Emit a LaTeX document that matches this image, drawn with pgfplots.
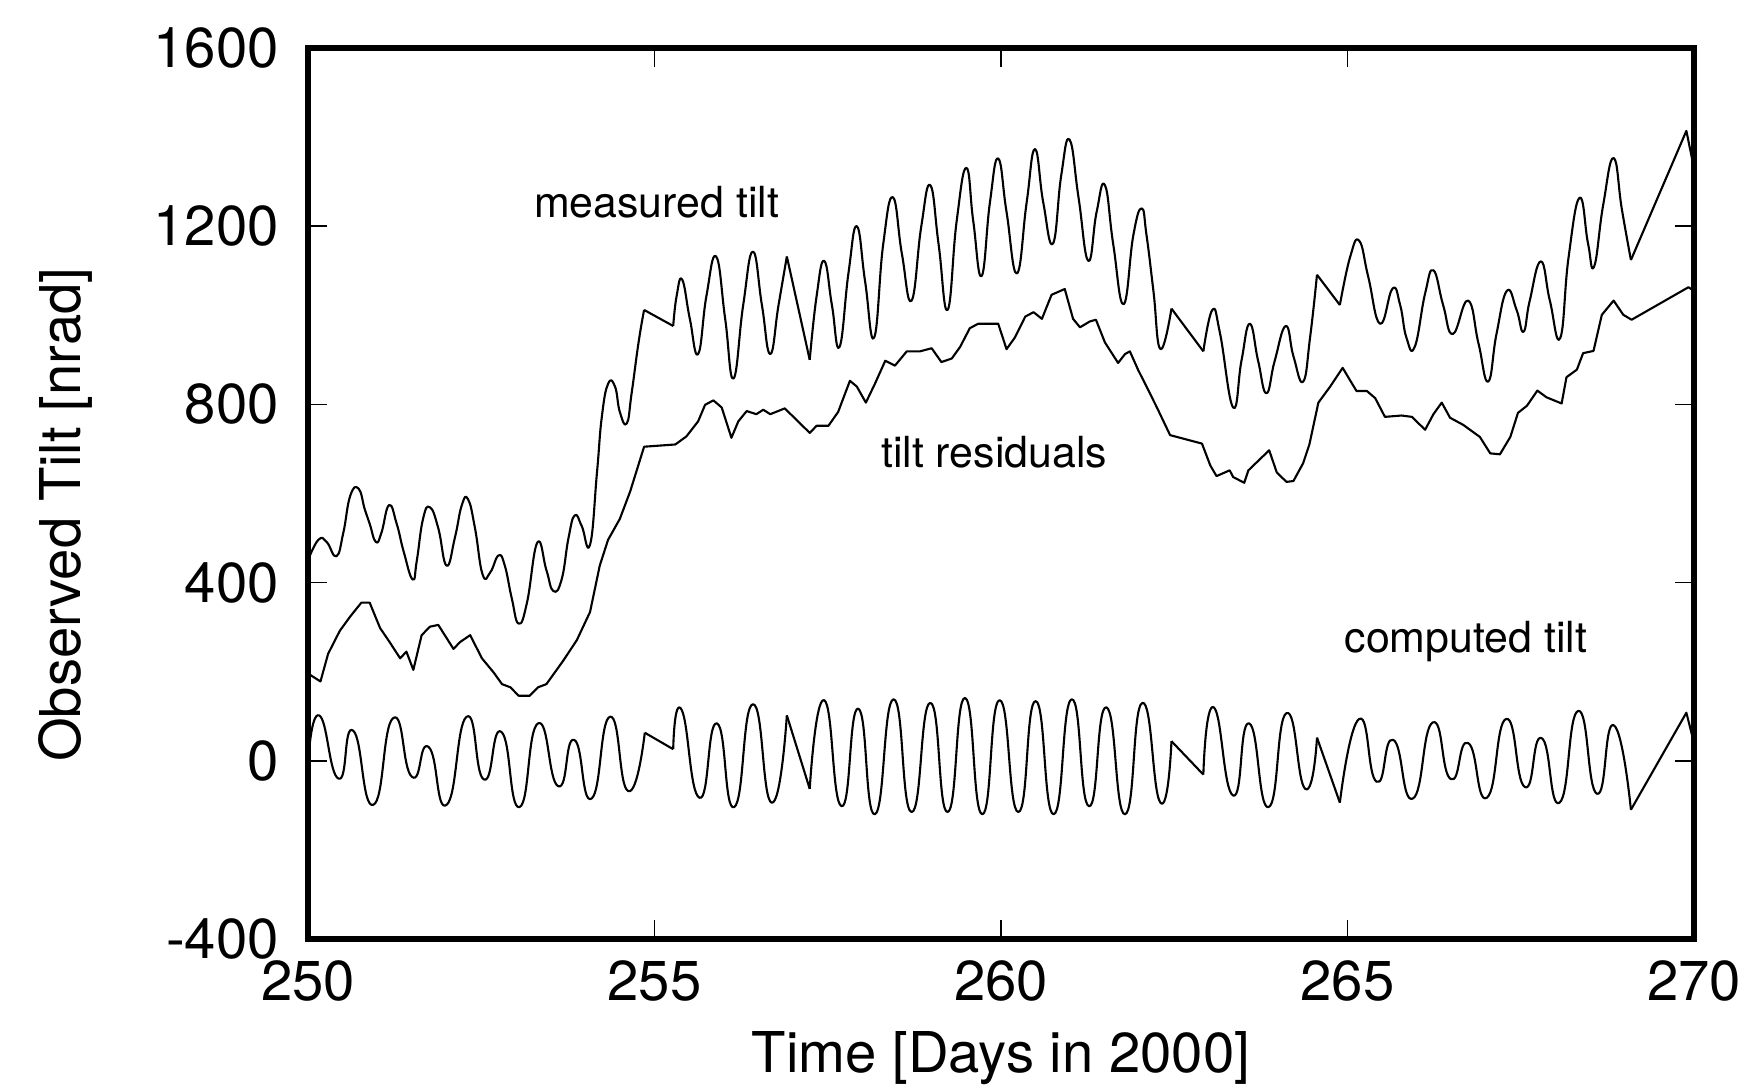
\documentclass[border=0pt]{standalone}
\usepackage{fontspec}
\setmainfont{TeX Gyre Heros}
\usepackage{pgfplots}
\pgfplotsset{compat=1.18}
\usetikzlibrary{calc}

\pgfplotsset{
  tilt/.style={black, line width=0.6pt, line join=round, mark=none},
  wave/.style={tilt, smooth, tension=0.8},
  tide/.style={tilt, smooth, tension=1.0},
}

\begin{document}
\begin{tikzpicture}
\begin{axis}[
  name=ax,
  scale only axis,
  width=138.6mm, height=89.1mm,
  xmin=250, xmax=270, ymin=-400, ymax=1600,
  xtick={250,255,...,270}, ytick={-400,0,...,1600},
  tick align=inside, tick pos=both,
  major tick length=1.9mm,
  major tick style={line width=0.5pt, black},
  axis line style={line width=1.9pt},
  /pgf/number format/assume math mode=true,
  /pgf/number format/1000 sep={},
  tick label style={font=\fontsize{16}{19}\selectfont},
  yticklabel style={xshift=-1.7mm},
  xticklabel style={yshift=-0.9mm},
  label style={font=\fontsize{16}{19}\selectfont},
  xlabel={Time [Days in 2000]},
  ylabel={Observed Tilt [nrad]},
  xlabel style={at={(axis description cs:0.5,-0.134)}, anchor=center},
  ylabel style={at={(axis description cs:-0.175,0.476)}, anchor=center},
]
% measured tilt
\addplot[wave] coordinates {
(250.00,450) (250.15,496) (250.27,491) (250.41,459) (250.51,512) (250.61,595) (250.73,611)
(250.82,564) (250.89,532) (250.98,491) (251.06,512) (251.17,574) (251.28,532) (251.38,470)
(251.51,407) (251.57,449) (251.66,543) (251.76,569) (251.88,522) (252.00,438) (252.12,501)
(252.22,574) (252.31,587) (252.41,522) (252.52,418) (252.63,423) (252.75,461) (252.84,438)
(252.94,365) (253.04,308) (253.16,355) (253.31,490) (253.44,428) (253.54,381) (253.66,407)
(253.76,501) (253.85,551) (253.95,527) (254.07,485) (254.17,647) (254.24,772) (254.33,846)
(254.43,840) (254.50,783) (254.60,757) (254.67,825) (254.77,939) (254.85,1012)};
\addplot[tilt] coordinates {(254.85,1012) (255.27,976)};
\addplot[wave] coordinates {
(255.27,976) (255.32,1044) (255.40,1080) (255.51,992) (255.63,913) (255.75,1044) (255.89,1132)
(256.02,992) (256.14,858) (256.28,1023) (256.42,1143) (256.55,1023) (256.67,913) (256.79,1023)
(256.91,1132)};
\addplot[tilt] coordinates {(256.91,1132) (257.24,900)};
\addplot[wave] coordinates {
(257.24,900) (257.34,1044) (257.45,1122) (257.56,1023) (257.67,929) (257.80,1096) (257.92,1200)
(258.04,1075) (258.17,950) (258.30,1159) (258.44,1265) (258.57,1138) (258.71,1033) (258.85,1200)
(258.98,1292) (259.10,1159) (259.23,1012) (259.36,1211) (259.50,1331) (259.60,1211) (259.72,1088)
(259.84,1253) (259.96,1352) (260.08,1232) (260.23,1094) (260.37,1253) (260.49,1373) (260.61,1253)
(260.75,1161) (260.87,1315) (260.99,1394) (261.12,1263) (261.26,1122) (261.38,1232) (261.50,1292)
(261.62,1159) (261.77,1025) (261.91,1180) (262.03,1240) (262.10,1180) (262.20,1054) (262.30,924)
(262.46,1015)};
\addplot[tilt] coordinates {(262.46,1015) (262.92,919)};
\addplot[wave] coordinates {
(262.92,919) (263.05,1012) (263.16,960) (263.35,793) (263.47,898) (263.59,981) (263.71,898)
(263.83,825) (263.95,898) (264.11,976) (264.22,908) (264.36,851) (264.46,950) (264.56,1091)};
\addplot[tilt] coordinates {(264.56,1091) (264.89,1023)};
\addplot[wave] coordinates {
(264.89,1023) (265.04,1132) (265.17,1167) (265.30,1086) (265.47,981) (265.65,1060) (265.76,1023)
(265.85,950) (265.97,929) (266.12,1049) (266.24,1101) (266.38,1023) (266.52,958) (266.74,1033)
(266.89,937) (267.03,851) (267.15,958) (267.30,1055) (267.44,1012) (267.54,963) (267.63,1033)
(267.79,1121) (267.92,1033) (268.07,949) (268.19,1130) (268.35,1264) (268.47,1162) (268.56,1110)
(268.69,1248) (268.84,1353) (268.96,1237) (269.09,1124)};
\addplot[tilt] coordinates {(269.09,1124) (269.89,1414) (270.00,1330)};
% tilt residuals
\addplot[tilt] coordinates {
(250.00,200) (250.03,193) (250.18,178) (250.29,240) (250.46,292) (250.61,324) (250.77,355)
(250.89,355) (251.04,298) (251.18,266) (251.33,230) (251.42,245) (251.52,204) (251.64,282)
(251.76,301) (251.88,305) (252.10,251) (252.19,266) (252.34,282) (252.51,230) (252.68,198)
(252.80,172) (252.92,165) (253.04,146) (253.20,146) (253.32,165) (253.44,172) (253.68,224)
(253.88,271) (254.07,334) (254.21,438) (254.33,496) (254.50,543) (254.65,605) (254.85,705)
(255.30,710) (255.46,728) (255.63,762) (255.73,799) (255.85,809) (255.97,793) (256.11,725)
(256.21,762) (256.33,785) (256.47,778) (256.57,788) (256.67,778) (256.88,791) (257.24,736)
(257.34,752) (257.51,752) (257.65,783) (257.82,853) (257.92,840) (258.05,804) (258.18,846)
(258.33,898) (258.47,887) (258.64,919) (258.83,919) (259.00,926) (259.14,895) (259.29,903)
(259.41,929) (259.55,971) (259.67,981) (259.96,981) (260.08,924) (260.20,950) (260.35,997)
(260.47,1007) (260.59,992) (260.73,1046) (260.92,1059) (261.04,992) (261.14,973) (261.28,986)
(261.37,990) (261.50,939) (261.69,893) (261.79,913) (261.86,919) (261.98,877) (262.10,840)
(262.25,793) (262.44,731) (262.90,712) (263.02,663) (263.11,639) (263.30,652) (263.35,637)
(263.51,624) (263.57,652) (263.71,673) (263.87,697) (263.98,647) (264.12,626) (264.22,628)
(264.36,668) (264.45,710) (264.58,804) (264.75,840) (264.93,882) (265.13,830) (265.28,830)
(265.40,814) (265.54,772) (265.78,775) (265.93,772) (266.12,743) (266.24,778) (266.36,804)
(266.48,770) (266.67,754) (266.91,727) (267.06,690) (267.20,688) (267.35,727) (267.46,781)
(267.59,797) (267.74,831) (267.87,816) (268.09,802) (268.16,861) (268.31,878) (268.40,915)
(268.55,920) (268.67,1001) (268.84,1033) (268.98,1001) (269.10,990) (269.92,1063) (270.00,1055)};
% computed tilt
\addplot[tide] coordinates {
(250.00,-10) (250.16,102) (250.44,-40) (250.65,68) (250.94,-99) (251.23,96) (251.50,-36)
(251.74,31) (252.00,-99) (252.29,99) (252.54,-42) (252.79,65) (253.05,-104) (253.32,84)
(253.61,-57) (253.84,47) (254.09,-85) (254.36,99) (254.62,-68) (254.86,63)};
\addplot[tilt] coordinates {(254.86,63) (255.27,26)};
\addplot[tide] coordinates {
(255.27,26) (255.39,115) (255.65,-83) (255.90,84) (256.15,-104) (256.42,127) (256.69,-94)
(256.91,102)};
\addplot[tilt] coordinates {(256.91,102) (257.24,-63)};
\addplot[tide] coordinates {
(257.24,-63) (257.45,136) (257.70,-102) (257.94,117) (258.18,-120) (258.45,138) (258.71,-115)
(258.98,130) (259.23,-115) (259.48,141) (259.73,-120) (259.98,136) (260.25,-115) (260.50,134)
(260.76,-120) (261.02,138) (261.27,-102) (261.52,120) (261.79,-120) (262.04,130) (262.30,-94)
(262.46,44)};
\addplot[tilt] coordinates {(262.46,44) (262.92,-31)};
\addplot[tide] coordinates {
(262.92,-31) (263.07,120) (263.35,-78) (263.58,84) (263.86,-104) (264.12,107) (264.39,-63)
(264.56,52)};
\addplot[tilt] coordinates {(264.56,52) (264.89,-94)};
\addplot[tide] coordinates {
(264.89,-94) (265.17,94) (265.42,-47) (265.66,47) (265.94,-85) (266.23,86) (266.49,-41)
(266.74,40) (267.01,-83) (267.29,94) (267.56,-59) (267.80,51) (268.06,-94) (268.33,112)
(268.60,-74) (268.84,80) (269.09,-110)};
\addplot[tilt] coordinates {(269.09,-110) (269.89,108) (270.00,40)};
\node[font=\fontsize{12.2}{14}\selectfont] at (axis cs:255.03,1253) {measured tilt};
\node[font=\fontsize{12.2}{14}\selectfont] at (axis cs:259.90,692) {tilt residuals};
\node[font=\fontsize{12.2}{14}\selectfont] at (axis cs:266.71,267) {computed tilt};
\end{axis}
\pgfresetboundingbox
\path[use as bounding box] ($(ax.south west)+(-30.8mm,-15.0mm)$) rectangle ($(ax.north east)+(6.3mm,4.8mm)$);
\end{tikzpicture}
\end{document}
